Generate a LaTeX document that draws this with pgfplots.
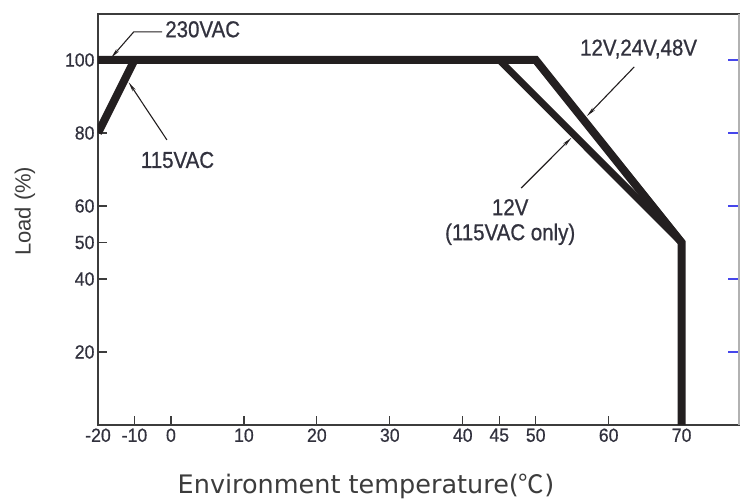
\documentclass[border=0pt]{standalone}
\usepackage{fontspec}
\setmainfont{Liberation Sans}
\newfontfamily\tickfont[FakeStretch=0.93,FakeBold=0.6]{Liberation Sans}
\newfontfamily\notefont[FakeStretch=0.89,FakeBold=0.8]{Liberation Sans}
\newfontfamily\labfont{DejaVu Sans}
\newfontfamily\cjk{Noto Sans CJK SC}
\usepackage{pgfplots}
\pgfplotsset{compat=1.18}
\usetikzlibrary{arrows.meta}
\definecolor{ink}{RGB}{35,31,32}
\definecolor{txt}{RGB}{50,50,62}
\definecolor{frame}{RGB}{60,60,60}
\definecolor{tickblue}{RGB}{70,70,235}

% x axis is not linear below 0: -20..0 is squeezed to half, so plot at u = x/2 there
\begin{document}
\begin{tikzpicture}
\begin{axis}[
    name=ax,
    width=642pt, height=411pt, scale only axis,
    xmin=-10, xmax=78, ymin=0, ymax=112.6,
    axis line style={frame, line width=1.6pt},
    xtick={-10,-5,0,10,20,30,40,45,50,60,70},
    xticklabels={-20,-10,0,10,20,30,40,45,50,60,70},
    ytick={20,40,50,60,80,100},
    xtick pos=bottom, ytick pos=left,
    tick align=inside,
    major tick length=9pt,
    tick style={frame, line width=1.2pt},
    /pgf/number format/assume math mode=true,
    ticklabel style={font=\fontsize{19}{19}\tickfont, text=txt},
    xlabel={\labfont Environment temperature(\cjk ℃\labfont)},
    xlabel style={at={(axis description cs:0.4175,0)}, anchor=base, yshift=-68pt,
        font=\fontsize{25.5}{25.5}\selectfont, text=frame},
    ylabel={Load (\%)},
    ylabel style={at={(axis description cs:-0.114,0.52)}, anchor=center, rotate=0,
        font=\fontsize{22}{22}\selectfont, text=frame},
]
% 230VAC, 12V/24V/48V
\addplot[ink, line width=8pt, line join=miter] coordinates {
    (-10,100) (50,100) (70,50) (70,0)
};
% 115VAC start-up
\addplot[ink, line width=8pt] coordinates {
    (-10,80) (-5,100)
};
% 12V at 115VAC
\addplot[ink, line width=7pt] coordinates {
    (45,100) (70,50)
};

\tikzset{lead/.style={ink, line width=1.1pt, -{Stealth[length=10pt,width=3.5pt]}}}
\draw[lead] (axis cs:-1.2,107.7) -- (axis cs:-5.1,107.7) -- (axis cs:-8.2,100.6);
\node[anchor=west, inner sep=0, text=txt, font=\fontsize{23}{23}\notefont]
    at (axis cs:-0.8,108.4) {230VAC};
\draw[lead] (axis cs:-0.55,78.1) -- (axis cs:-5.8,93.9);
\node[inner sep=0, text=txt, font=\fontsize{23}{23}\notefont]
    at (axis cs:0.9,72.6) {115VAC};
\draw[lead] (axis cs:63.5,98.1) -- (axis cs:57,84.6);
\node[inner sep=0, text=txt, font=\fontsize{23}{23}\notefont]
    at (axis cs:64.1,103) {12V,24V,48V};
\draw[lead] (axis cs:48,64.9) -- (axis cs:54.9,78.7);
\node[inner sep=0, text=txt, align=center, font=\fontsize{23}{25}\notefont]
    at (axis cs:46.5,55.6) {12V\\(115VAC only)};
\end{axis}
% right edge: light line with short blue marks
\begin{axis}[
    width=641pt, height=411pt, scale only axis,
    xmin=-10, xmax=78, ymin=0, ymax=112.6,
    axis x line=none, axis y line*=right,
    axis line style={black!30, line width=1.4pt},
    ytick={20,40,60,80,100}, yticklabels={},
    tick align=inside, major tick length=11pt,
    tick style={tickblue, line width=1.5pt},
]
\addplot[draw=none] coordinates {(0,0)};
\end{axis}
\pgfresetboundingbox
\useasboundingbox (-98pt,-79pt) rectangle (642pt,425pt);
\end{tikzpicture}
\end{document}
